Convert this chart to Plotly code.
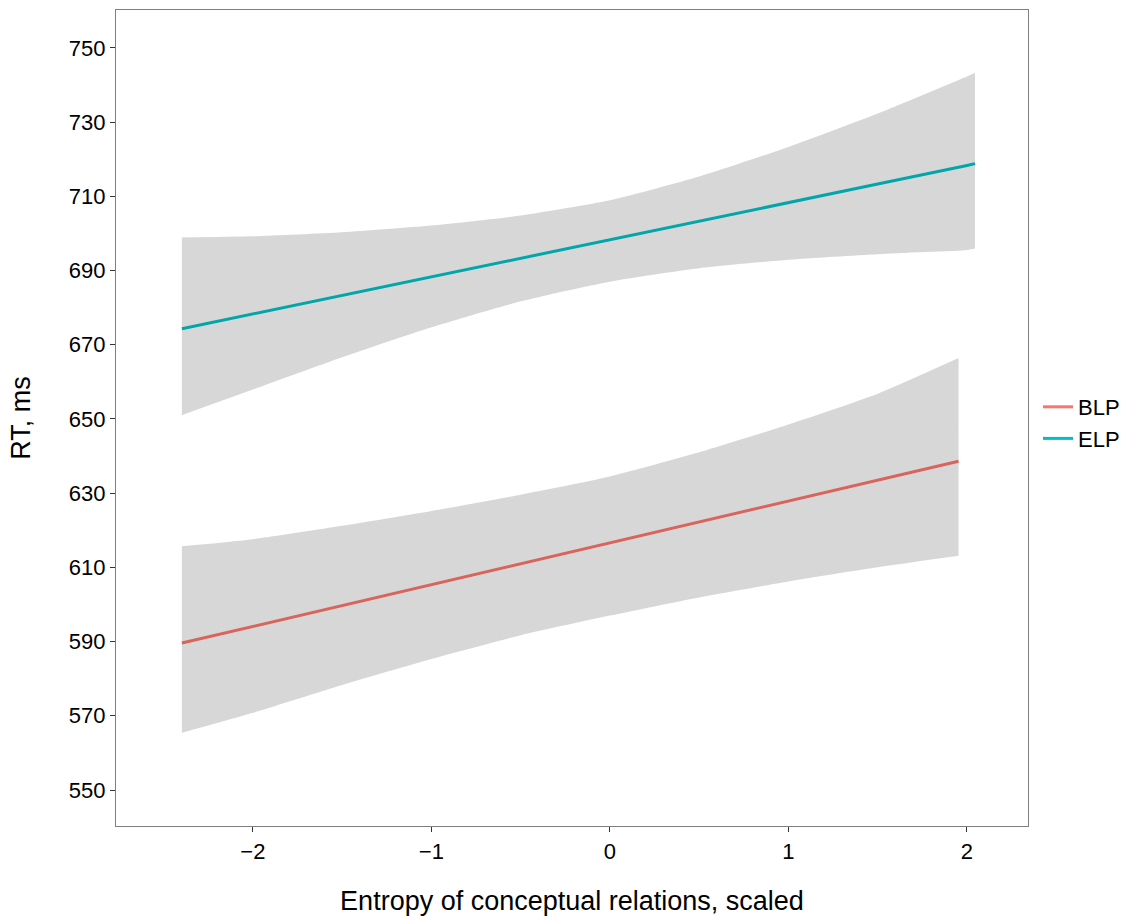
import plotly.graph_objects as go

# ---- data ----
elp_x = [-2.398, -2.0, -1.5, -1.0, -0.5, 0.0, 0.5, 1.0, 1.5, 2.0, 2.045]
elp_fit = [674.3, 678.3, 683.3, 688.3, 693.3, 698.3, 703.3, 708.3, 713.3, 718.3, 718.8]
elp_upper = [698.9, 699.2, 700.3, 702.1, 704.8, 708.9, 715.3, 723.3, 732.3, 742.3, 743.3]
elp_lower = [651.0, 657.9, 666.6, 674.7, 681.7, 687.0, 690.6, 692.9, 694.4, 695.5, 695.9]

blp_x = [-2.398, -2.0, -1.5, -1.0, -0.5, 0.0, 0.5, 1.0, 1.5, 1.953]
blp_fit = [589.6, 594.1, 599.7, 605.3, 611.0, 616.6, 622.2, 627.9, 633.5, 638.6]
blp_upper = [615.7, 617.6, 621.2, 625.2, 629.6, 634.5, 641.0, 648.5, 656.8, 666.4]
blp_lower = [565.4, 570.8, 578.3, 585.3, 591.7, 597.0, 601.9, 606.2, 610.0, 613.1]

series_names = ["BLP", "ELP"]
legend_colors = ["#F8766D", "#00BFC4"]
line_colors = ["#D9645C", "#00A6AA"]
ribbon_color = "rgb(215,215,215)"

y_ticks = [550, 570, 590, 610, 630, 650, 670, 690, 710, 730, 750]
x_ticks = [-2, -1, 0, 1, 2]

FONT = "Arial, 'Liberation Sans', sans-serif"

fig = go.Figure()

groups = [
    (blp_x, blp_fit, blp_upper, blp_lower, line_colors[0]),
    (elp_x, elp_fit, elp_upper, elp_lower, line_colors[1]),
]
for gx, gfit, gup, glo, col in groups:
    fig.add_trace(go.Scatter(x=gx, y=gup, mode="lines", line=dict(width=0, shape="spline", smoothing=0.6),
                             showlegend=False, hoverinfo="skip"))
    fig.add_trace(go.Scatter(x=gx, y=glo, mode="lines", line=dict(width=0, shape="spline", smoothing=0.6),
                             fill="tonexty", fillcolor=ribbon_color, showlegend=False, hoverinfo="skip"))
    fig.add_trace(go.Scatter(x=gx, y=gfit, mode="lines", line=dict(color=col, width=3),
                             showlegend=False))

# legend entries (lighter colours as in the reference legend)
for name, col in zip(series_names, legend_colors):
    fig.add_trace(go.Scatter(x=[None], y=[None], mode="lines", name=name,
                             line=dict(color=col, width=3)))

axis_common = dict(
    showgrid=False, zeroline=False, showline=True, mirror=True,
    linecolor="#7f7f7f", linewidth=1.2,
    ticks="outside", ticklen=5, tickwidth=1.2, tickcolor="#333333",
    tickfont=dict(family=FONT, size=22, color="#000000"),
)

W, H = 1127, 916

fig.update_layout(
    width=W, height=H,
    margin=dict(l=116, r=99, t=10, b=90, autoexpand=False),
    paper_bgcolor="white", plot_bgcolor="white",
    font=dict(family=FONT, color="#000000"),
    xaxis=dict(range=[-2.767, 2.342], tickvals=x_ticks,
               title=dict(text="Entropy of conceptual relations, scaled",
                          font=dict(family=FONT, size=27, color="#000000"), standoff=30),
               **axis_common),
    yaxis=dict(range=[540.3, 760.2], tickvals=y_ticks,
               title=dict(text="RT, ms", font=dict(family=FONT, size=27, color="#000000"), standoff=30),
               **axis_common),
    legend=dict(xref="container", yref="container",
                x=1038 / W, xanchor="left", y=1 - 423 / H, yanchor="middle",
                traceorder="normal",
                font=dict(family=FONT, size=22, color="#000000"),
                bgcolor="rgba(0,0,0,0)", tracegroupgap=0, itemwidth=30),
)

fig.write_html("out.html")
